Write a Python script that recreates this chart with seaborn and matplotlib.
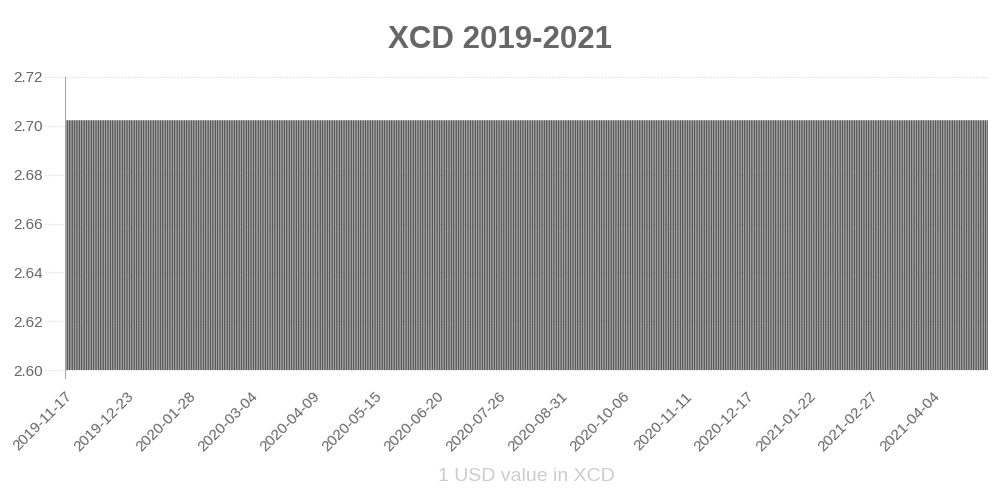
import pandas as pd
import matplotlib
matplotlib.use("Agg")
import matplotlib.pyplot as plt
import seaborn as sns

# daily USD->XCD rate (pegged, flat over the period)
dates = pd.date_range("2019-11-17", "2021-05-05", freq="D").strftime("%Y-%m-%d").tolist()
rates = [2.7023] * len(dates)
y_ticks = [2.60, 2.62, 2.64, 2.66, 2.68, 2.70, 2.72]

df = pd.DataFrame({"date": dates, "rate": rates})

sns.set_style("white")
plt.rcParams["font.family"] = ["Liberation Sans", "DejaVu Sans"]

fig = plt.figure(figsize=(10, 5), dpi=100)
ax = fig.add_axes([0.065, 0.26, 0.923, 0.586])

sns.barplot(data=df, x="date", y="rate", color="#5a5a5a", width=0.8,
            saturation=1, ax=ax, linewidth=0)
for p in ax.patches:
    p.set_snap(False)

ax.set_ylim(2.60, 2.72)
ax.set_yticks(y_ticks)
ax.set_yticklabels([f"{v:.2f}" for v in y_ticks], color="#666666", fontsize=11)
ax.set_xlim(-0.5, len(dates) - 0.5)

# every 36th day gets a label, placed at the left edge of its bar slot
step = 36
pos = list(range(0, len(dates), step))
ax.set_xticks([i - 0.5 for i in pos])
ax.set_xticklabels([dates[i] for i in pos], rotation=45, ha="right",
                   rotation_mode="anchor", color="#666666", fontsize=11)
ax.tick_params(axis="x", length=0, pad=14)
ax.tick_params(axis="y", length=0, pad=16)

# dotted grid lines that run a little past the axis, like the original
for v in y_ticks:
    ax.axhline(v, xmin=-0.022, xmax=1, clip_on=False, linestyle=":",
               color="#d8d8d8", linewidth=0.8, zorder=0)
for s in ["top", "right", "bottom"]:
    ax.spines[s].set_visible(False)
ax.spines["left"].set_color("#aaaaaa")
ax.spines["left"].set_linewidth(0.8)
ax.spines["left"].set_bounds(2.5967, 2.72)

ax.set_ylabel("")
ax.set_xlabel("1 USD value in XCD", color="#cccccc", fontsize=14, labelpad=10)
fig.suptitle("XCD 2019-2021", fontsize=22.5, fontweight="bold", color="#666666", y=0.95)

fig.savefig("out.png", dpi=100)
